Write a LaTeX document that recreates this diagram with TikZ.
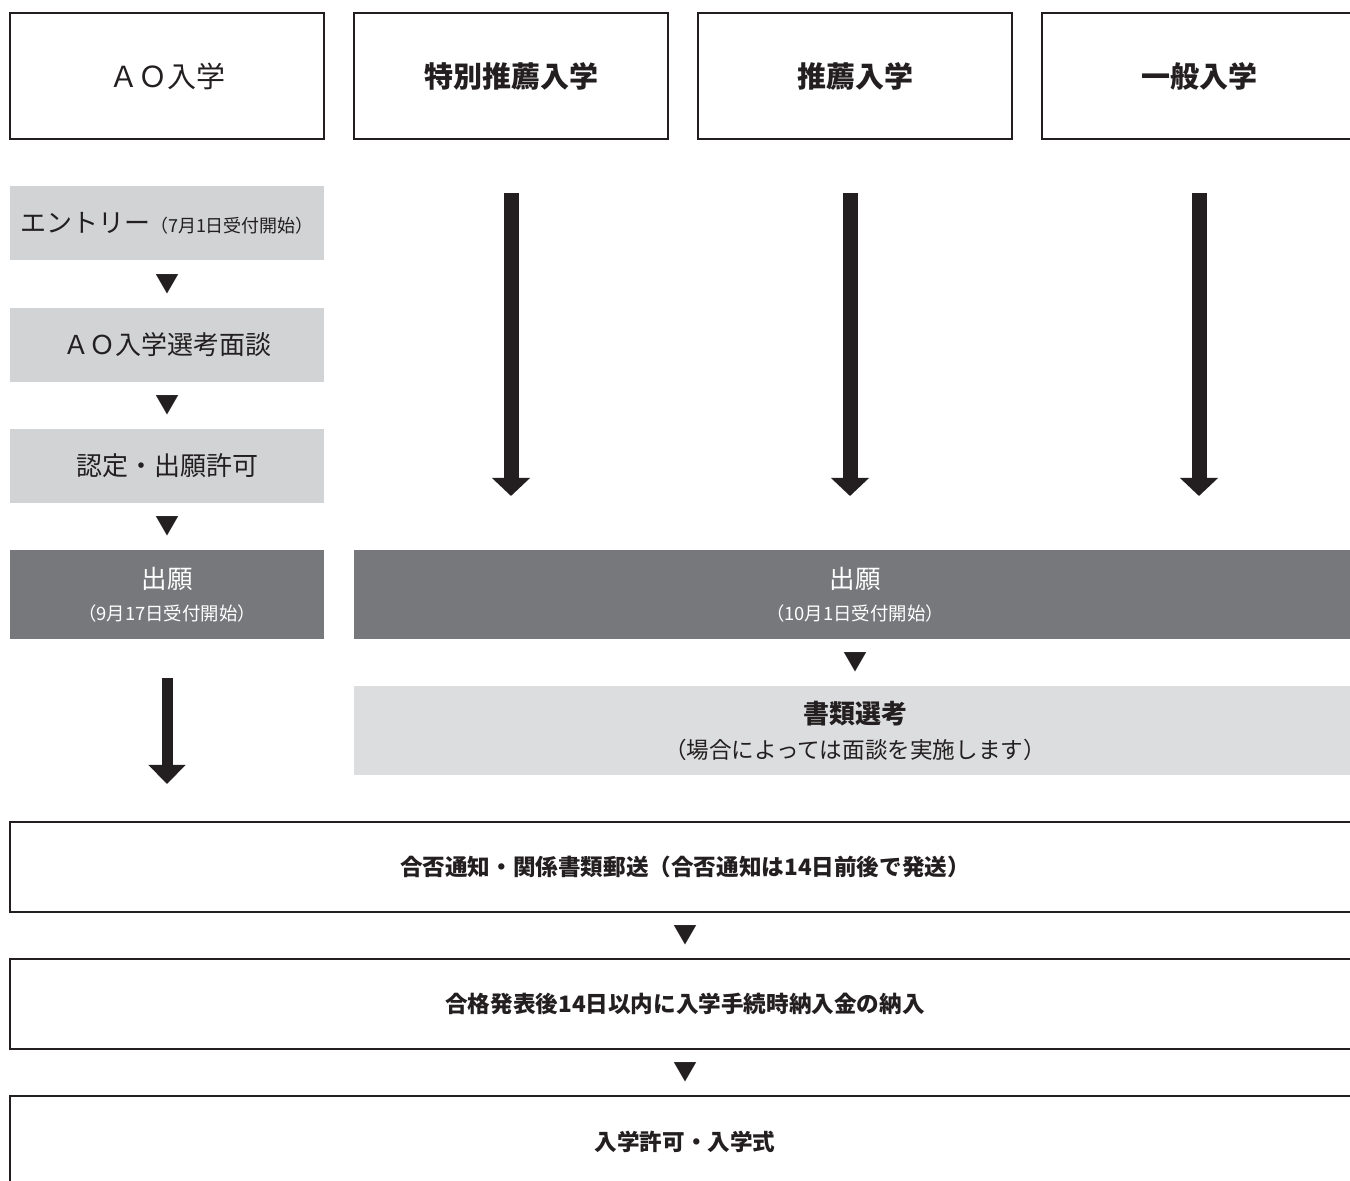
\documentclass[tikz,border=0pt]{standalone}
\usepackage{fontspec}
\setmainfont{Noto Sans CJK JP}
\usetikzlibrary{positioning, calc, arrows.meta}

\definecolor{inkgray}{HTML}{231F20}
\definecolor{stepgray}{HTML}{D1D3D4}
\definecolor{docgray}{HTML}{DCDDDE}
\definecolor{applygray}{HTML}{77787B}

\begin{document}
\begin{tikzpicture}[x=0.5pt, y=-0.5pt,
            % Styles
            headbox/.style={rectangle, draw=inkgray, line width=1pt, text=inkgray, minimum width=157pt, minimum height=63pt, font=\bfseries\fontsize{14.5}{17}\selectfont},
            stepbox/.style={rectangle, fill=stepgray, text=inkgray, minimum width=157pt, minimum height=37pt, outer sep=0pt, font=\fontsize{13}{15}\selectfont},
            applybox/.style={rectangle, fill=applygray, text=white, minimum width=157pt, minimum height=44.5pt, outer sep=0pt, align=center, font=\fontsize{12.75}{16}\selectfont},
            docbox/.style={rectangle, fill=docgray, text=inkgray, minimum width=501pt, minimum height=44.5pt, outer sep=0pt, align=center, font=\fontsize{13}{17.5}\selectfont},
            resultbox/.style={rectangle, draw=inkgray, line width=1pt, text=inkgray, minimum width=675pt, minimum height=45pt, font=\bfseries\fontsize{11.3}{13}\selectfont},
            tri/.style={inner sep=0pt, text=inkgray, font=\fontsize{12}{12}\selectfont},
            bigarrow/.style={draw=inkgray, line width=7.5pt, -{Triangle[width=18.5pt, length=9pt]}},
            aoarrow/.style={draw=inkgray, line width=5.5pt, -{Triangle[width=18pt, length=9.5pt]}}
        ]

        \useasboundingbox (0,0) rectangle (1350,1181);
        \clip (0,0) rectangle (1350,1181);

        % Entrance types
        \node [headbox, font=\mdseries\fontsize{14.5}{17}\selectfont] (ao) at (167,76) {ＡＯ入学};
        \node [headbox, right=14pt of ao] (special) {特別推薦入学};
        \node [headbox, right=14pt of special] (recommend) {推薦入学};
        \node [headbox, right=14pt of recommend] (general) {一般入学};

        % AO steps
        \node [stepbox, below=23pt of ao] (entry) {エントリー{\fontsize{9}{10}\selectfont（7月1日受付開始）}};
        \node [stepbox, below=24pt of entry] (interview) {ＡＯ入学選考面談};
        \node [stepbox, below=23.5pt of interview] (permit) {認定・出願許可};

        % Applications
        \node [applybox, below=23.5pt of permit] (aoapply) {出願\\{\fontsize{9.2}{10}\selectfont（9月17日受付開始）}};
        \node [applybox, right=15pt of aoapply, minimum width=501pt] (apply) {出願\\{\fontsize{9.2}{10}\selectfont（10月1日受付開始）}};
        \node [docbox, below=23.5pt of apply] (docs) {\textbf{書類選考}\\{\fontsize{11.3}{12}\selectfont（場合によっては面談を実施します）}};

        % Common steps
        \node [resultbox, anchor=north west] (result) at ($(ao.west |- docs.south)+(0,-23pt)$) {合否通知・関係書類郵送（合否通知は14日前後で発送）};
        \node [resultbox, below=22.5pt of result] (fees) {合格発表後14日以内に入学手続時納入金の納入};
        \node [resultbox, below=22.5pt of fees, minimum height=46pt] (enroll) {入学許可・入学式};

        % Triangles
        \node [tri] (tri1) at ($(entry.south)!0.5!(interview.north)$) {▼};
        \node [tri] (tri2) at ($(interview.south)!0.5!(permit.north)$) {▼};
        \node [tri] (tri3) at ($(permit.south)!0.5!(aoapply.north)$) {▼};
        \node [tri] (tri4) at ($(apply.south)!0.5!(docs.north)$) {▼};
        \node [tri] (tri5) at ($(result.south)!0.5!(fees.north)$) {▼};
        \node [tri] (tri6) at ($(fees.south)!0.5!(enroll.north)$) {▼};

        % Edges
        \draw [bigarrow, shorten <=26.5pt, shorten >=27pt] (special.south) -- (special.south |- apply.north);
        \draw [bigarrow, shorten <=26.5pt, shorten >=27pt] ([xshift=-2.5pt]recommend.south) -- ([xshift=-2.5pt]recommend.south |- apply.north);
        \draw [bigarrow, shorten <=26.5pt, shorten >=27pt] (general.south) -- (general.south |- apply.north);
        \draw [aoarrow, shorten <=19.5pt, shorten >=18.5pt] (aoapply.south) -- (aoapply.south |- result.north);

    \end{tikzpicture}
\end{document}
